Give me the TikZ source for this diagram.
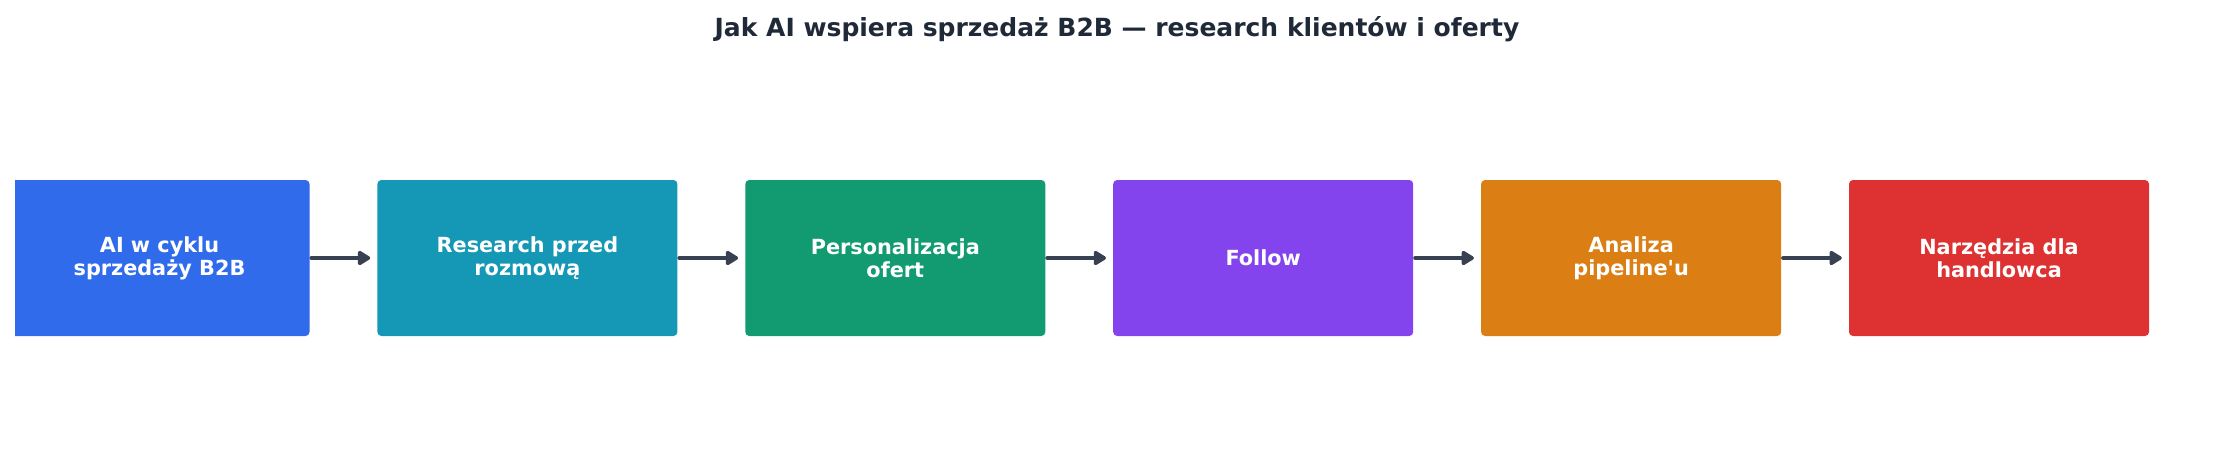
\documentclass[tikz,border=0pt]{standalone}
\usepackage{fontspec}
\setmainfont{DejaVu Sans}
\usetikzlibrary{positioning,arrows.meta}
\definecolor{titleink}{HTML}{1F2937}
\definecolor{arrowink}{HTML}{374151}
\definecolor{stageblue}{HTML}{2563EB}
\definecolor{stagecyan}{HTML}{0891B2}
\definecolor{stagegreen}{HTML}{059669}
\definecolor{stageviolet}{HTML}{7C3AED}
\definecolor{stageamber}{HTML}{D97706}
\definecolor{stagered}{HTML}{DC2626}
\newcommand\stage[4]{%
\node[stagebox, fill=#3, #2] (#1) {#4};
}

\begin{document}
\begin{tikzpicture}[x=1pt,y=-1pt,
    stagebox/.style={rounded corners=4pt, fill opacity=0.95, text opacity=1,
      minimum width=300pt, minimum height=156pt, inner sep=0pt,
      align=center, text=white, font=\bfseries\fontsize{20.8}{23}\selectfont},
    flow/.style={-{Triangle[length=14pt,width=16pt,round]}, line width=4.5pt,
      line cap=round, arrowink, shorten <=2pt, shorten >=7pt}]
	%% some definitions
	\def\gap{67.5pt} % space between boxes

	\useasboundingbox (0,0) rectangle (2235,463);

	\node[anchor=base, text=titleink, font=\bfseries\fontsize{25}{30}\selectfont]
	  (title) at (1117,36) {Jak AI wspiera sprzedaż B2B — research klientów i oferty};

	\begin{scope}
	\clip (15,0) rectangle (2235,463); % first box is cut at the left
	\stage{cycle}{at={(159.5,258)}}{stageblue}{AI w cyklu\\sprzedaży B2B}
	\stage{research}{right=\gap of cycle}{stagecyan}{Research przed\\rozmową}
	\stage{offer}{right=\gap of research}{stagegreen}{Personalizacja\\ofert}
	\stage{follow}{right=\gap of offer}{stageviolet}{Follow}
	\stage{pipeline}{right=\gap of follow}{stageamber}{Analiza\\pipeline\textquotesingle u}
	\stage{tools}{right=\gap of pipeline}{stagered}{Narzędzia dla\\handlowca}
	\end{scope}

	\draw[flow] (cycle) -- (research);
	\draw[flow] (research) -- (offer);
	\draw[flow] (offer) -- (follow);
	\draw[flow] (follow) -- (pipeline);
	\draw[flow] (pipeline) -- (tools);

\end{tikzpicture}
\end{document}
